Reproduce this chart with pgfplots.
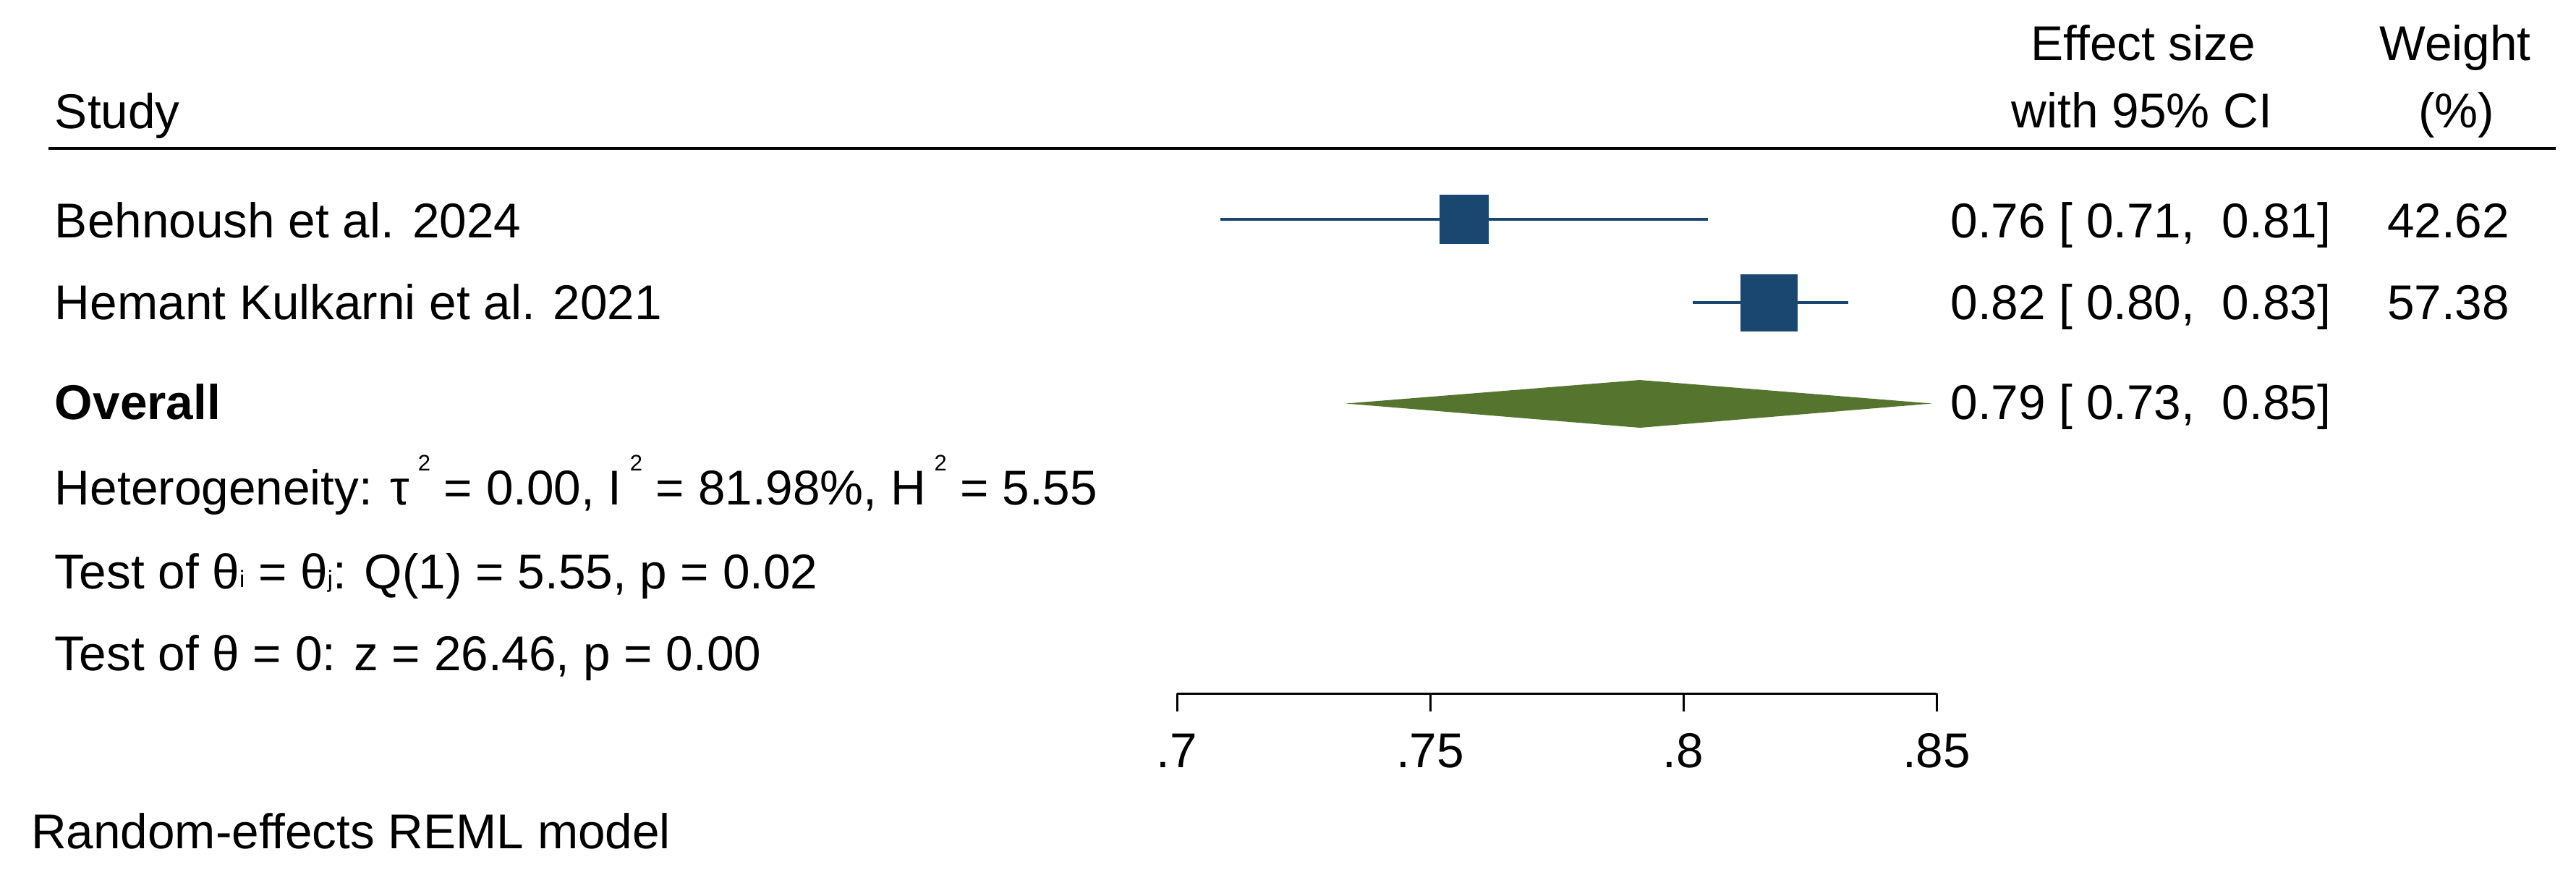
\documentclass[border=0pt]{standalone}
\usepackage{pgfplots}
\pgfplotsset{compat=1.18}
\usepackage{fontspec}
\setmainfont{Liberation Sans}
\definecolor{stnavy}{RGB}{26,71,111}
\definecolor{stgreen}{RGB}{85,117,47}
\newcommand{\sqr}{\raisebox{9.3pt}{\fontsize{6.2}{7}\selectfont 2}}
\newcommand{\sub}[1]{\raisebox{0.3pt}{\fontsize{6.5}{7}\selectfont #1}}
\begin{document}
\fontsize{13.5}{16}\selectfont
\begin{tikzpicture}[every node/.style={inner sep=0pt, font=\fontsize{13.5}{16}\selectfont}]
% page frame, 1px = 0.2pt
\path[use as bounding box] (0,0) rectangle (712.2pt,-243.8pt);
\begin{axis}[
    at={(325.4pt,-191.6pt)}, anchor=south west,
    scale only axis, width=210pt, height=191.6pt,
    xmin=0.7, xmax=0.85, ymin=-958, ymax=0,
    axis x line=bottom, axis y line=none,
    x axis line style={-, line width=0.6pt},
    xtick={0.7,0.75,0.8,0.85}, xticklabels={.7,.75,.8,.85},
    xtick align=outside, major tick length=5pt,
    tick style={black, line width=0.6pt},
    xticklabel style={anchor=base, yshift=-15.4pt},
    clip=false,
    ]
    % Behnoush et al. 2024
    \addplot[stnavy, line width=0.9pt] coordinates {(0.7085,-303) (0.8049,-303)};
    \addplot[only marks, mark=square*, mark size=6.75pt,
        mark options={draw=stnavy, fill=stnavy, line width=0pt}]
        coordinates {(0.7567,-303)};
    % Hemant Kulkarni et al. 2021
    \addplot[stnavy, line width=0.9pt] coordinates {(0.8019,-418) (0.8326,-418)};
    \addplot[only marks, mark=square*, mark size=7.8pt,
        mark options={draw=stnavy, fill=stnavy, line width=0pt}]
        coordinates {(0.8169,-418)};
    % overall
    \addplot[fill=stgreen, draw=none]
        coordinates {(0.7334,-557.5) (0.7914,-525) (0.8491,-557.5) (0.7914,-591)} -- cycle;
\end{axis}
\begin{scope}[x=0.2pt, y=-0.2pt]
    \draw[line width=0.8pt] (67,205) -- (3533,205);
    \node[anchor=base west] at (75,177) {Study};
    \node[anchor=base] at (2963,83) {Effect size};
    \node[anchor=base] at (2961,176) {with 95\% CI};
    \node[anchor=base] at (3394,83) {Weight};
    \node[anchor=base] at (3396,176) {(\%)};

    \node[anchor=base west] at (75,328) {Behnoush et al. 2024};
    \node[anchor=base west] at (75,441) {Hemant Kulkarni et al. 2021};
    \node[anchor=base west] at (75,579) {\bfseries Overall};
    \node[anchor=base west] at (75,697) {Heterogeneity: τ\,\sqr\ = 0.00, I\,\sqr\ = 81.98\%, H\,\sqr\ = 5.55};
    \node[anchor=base west] at (75,813) {Test of θ\sub{i} = θ\sub{j}: Q(1) = 5.55, p = 0.02};
    \node[anchor=base west] at (75,926) {Test of θ = 0: z = 26.46, p = 0.00};
    \node[anchor=base west] at (42,1172) {Random-effects REML model};

    \node[anchor=base east] at (3223,328) {0.76 [ 0.71,~ 0.81]};
    \node[anchor=base east] at (3223,441) {0.82 [ 0.80,~ 0.83]};
    \node[anchor=base east] at (3223,579) {0.79 [ 0.73,~ 0.85]};
    \node[anchor=base east] at (3470,328) {42.62};
    \node[anchor=base east] at (3470,441) {57.38};
\end{scope}
\end{tikzpicture}
\end{document}
